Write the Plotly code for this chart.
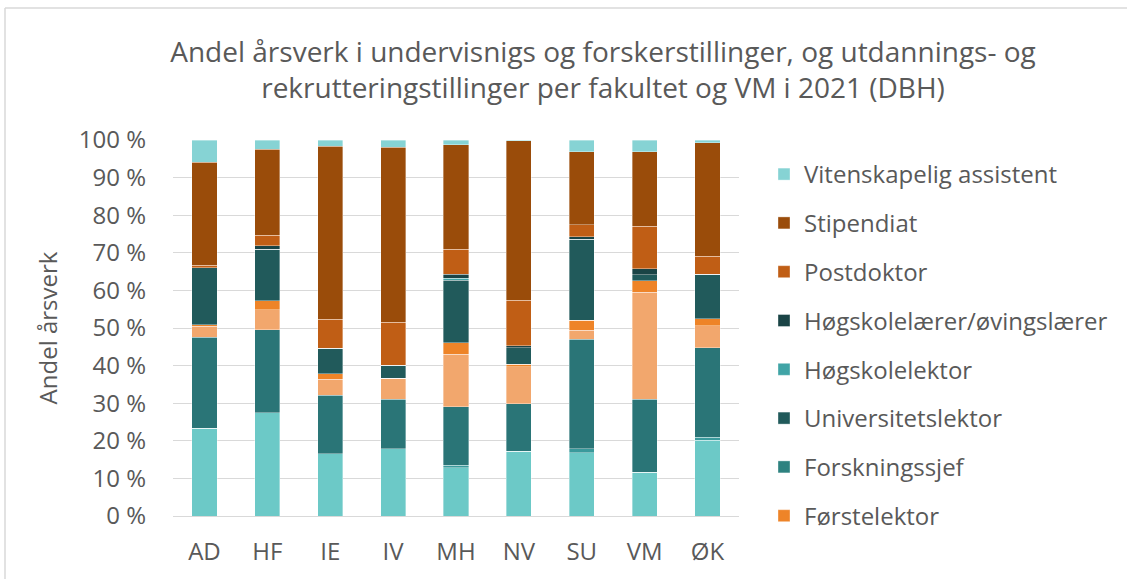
import plotly.graph_objects as go

categories = ["AD", "HF", "IE", "IV", "MH", "NV", "SU", "VM", "ØK"]

# segment shares (%)
professor = [23.4, 27.5, 16.5, 17.9, 12.8, 17.2, 16.8, 11.6, 20.1]
dosent = [0.0, 0.0, 0.0, 0.0, 0.7, 0.0, 1.1, 0.0, 0.9]
forsteamanuensis = [24.2, 22.1, 15.6, 13.1, 15.5, 12.7, 29.1, 19.4, 23.8]
forsker = [2.9, 5.2, 4.3, 5.6, 14.0, 9.8, 2.4, 28.5, 5.8]
forstelektor = [0.4, 2.4, 1.5, 0.0, 3.1, 0.7, 2.7, 3.1, 1.9]
forskningssjef = [0.0, 0.0, 0.0, 0.0, 0.0, 0.0, 0.0, 0.0, 0.0]
universitetslektor = [15.1, 13.8, 6.7, 3.5, 16.6, 4.4, 21.5, 1.6, 11.8]
hogskolelektor = [0.0, 0.0, 0.0, 0.0, 0.5, 0.0, 0.0, 0.0, 0.0]
hogskolelaerer = [0.0, 0.9, 0.0, 0.0, 1.1, 0.5, 0.7, 1.6, 0.0]
postdoktor = [0.7, 2.8, 7.7, 11.4, 6.7, 12.1, 3.2, 11.2, 4.8]
stipendiat = [27.4, 22.8, 46.1, 46.6, 27.8, 42.4, 19.4, 19.9, 30.2]
vit_assistent = [5.9, 2.5, 1.6, 1.9, 1.2, 0.2, 3.1, 3.1, 0.7]

series = [
    ("Professor", professor, "#6CC9C7", False),
    ("Dosent", dosent, "#3A9A9C", False),
    ("Førsteamanuensis", forsteamanuensis, "#2A7577", False),
    ("Forsker", forsker, "#F2A76D", False),
    ("Førstelektor", forstelektor, "#EE8428", True),
    ("Forskningssjef", forskningssjef, "#2E8280", True),
    ("Universitetslektor", universitetslektor, "#215A5B", True),
    ("Høgskolelektor", hogskolelektor, "#40A4A6", True),
    ("Høgskolelærer/øvingslærer", hogskolelaerer, "#1A4446", True),
    ("Postdoktor", postdoktor, "#C05E15", True),
    ("Stipendiat", stipendiat, "#9A4C0A", True),
    ("Vitenskapelig assistent", vit_assistent, "#86D3D4", True),
]

fig = go.Figure()
for i, (name, vals, col, show) in enumerate(series):
    fig.add_trace(go.Bar(
        x=categories, y=[v / 100 for v in vals], name=name,
        marker=dict(color=col, line=dict(color="rgba(255,255,255,0.6)", width=0.6)),
        showlegend=show, legendgroup=name, legendrank=100 - i,
    ))

# plot-area geometry (page pixels)
L, R, T, B = 173, 739, 140, 516
W, H = 1127, 579
pw, ph = R - L, B - T

fig.update_layout(
    width=W, height=H,
    barmode="stack", bargap=0.6,
    margin=dict(l=L, r=W - R, t=T, b=H - B, autoexpand=False),
    plot_bgcolor="white", paper_bgcolor="white",
    font=dict(family="Open Sans", color="#595959", size=24),
    title=dict(
        text="Andel årsverk i undervisnigs og forskerstillinger, og utdannings- og<br>rekrutteringstillinger per fakultet og VM i 2021 (DBH)",
        font=dict(size=28, color="#595959", family="Open Sans"),
        x=(603 - L) / pw, xref="paper", xanchor="center",
        y=1 - 62 / H, yref="container", yanchor="middle",
    ),
    yaxis=dict(
        range=[0, 1], tickvals=[i / 10 for i in range(11)],
        ticktext=[f"{i*10} %" for i in range(11)],
        showgrid=True, gridcolor="#D9D9D9", gridwidth=1.3,
        zeroline=False, showline=False, ticks="", ticklabelstandoff=26,
        title=dict(text="Andel årsverk", font=dict(size=24, color="#595959"), standoff=14),
        tickfont=dict(size=24, color="#595959"),
    ),
    xaxis=dict(
        showline=True, linecolor="#D9D9D9", linewidth=1.3, ticks="",
        tickfont=dict(size=24, color="#595959"), ticklabelstandoff=14,
    ),
    legend=dict(
        x=(764 - L) / pw, xanchor="left", y=(B - 152) / ph, yanchor="top",
        traceorder="grouped", tracegroupgap=14.6, maxheight=560,
        font=dict(size=24, color="#595959"), itemwidth=30,
        bgcolor="rgba(0,0,0,0)",
    ),
    shapes=[
        dict(type="line", xref="paper", yref="paper",
             x0=(5 - L) / pw, x1=(W + 20 - L) / pw, y0=(B - 8) / ph, y1=(B - 8) / ph,
             line=dict(color="#D9D9D9", width=1.5)),
        dict(type="line", xref="paper", yref="paper",
             x0=(5 - L) / pw, x1=(5 - L) / pw, y0=(B - 8) / ph, y1=(B - H - 20) / ph,
             line=dict(color="#D9D9D9", width=1.5)),
    ],
)

fig.write_html("out.html", config={"displayModeBar": False},
               post_script="document.body.style.margin='0';")
